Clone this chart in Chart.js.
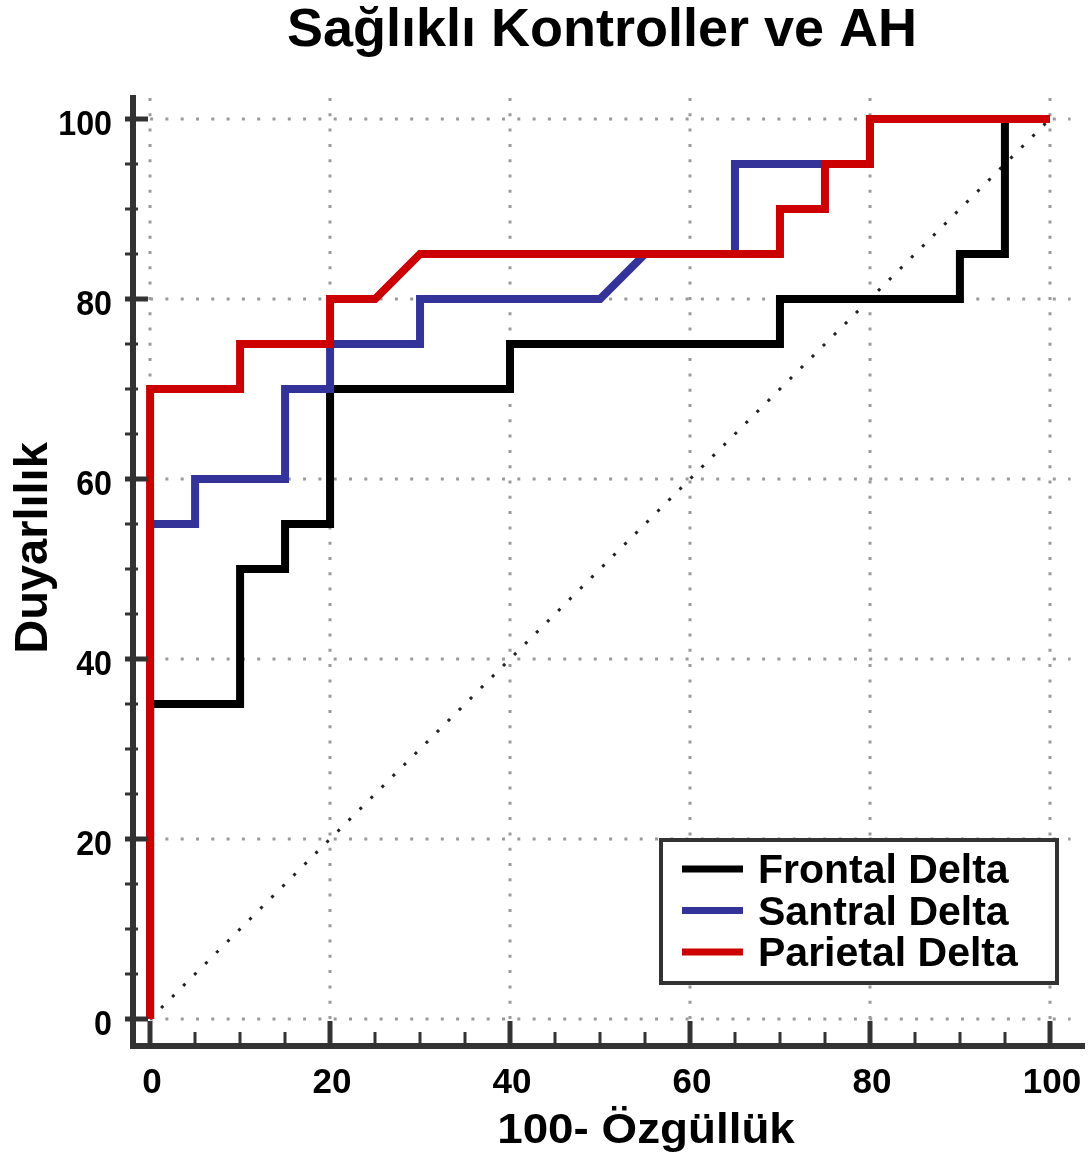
<!DOCTYPE html>
<html>
<head>
<meta charset="utf-8">
<title>Sağlıklı Kontroller ve AH</title>
<script src="https://cdn.jsdelivr.net/npm/chart.js@4.4.1/dist/chart.umd.min.js"></script>
<style>
  html, body { margin: 0; padding: 0; background: #fff; }
  canvas { display: block; }
</style>
</head>
<body>
<canvas id="rocChart" width="1092" height="1158"></canvas>
<script>
// ROC eğrileri: x = 100 - özgüllük, y = duyarlılık (%)
const seriesNames = ["Frontal Delta", "Santral Delta", "Parietal Delta"];
const seriesColors = ["#000000", "#333399", "#cc0000"];

const frontalX = [0, 0, 10, 10, 15, 15, 20, 20, 40, 40, 70, 70, 90, 90, 95, 95, 100];
const frontalY = [0, 35, 35, 50, 50, 55, 55, 70, 70, 75, 75, 80, 80, 85, 85, 100, 100];

const santralX = [0, 0, 5, 5, 15, 15, 20, 20, 30, 30, 50, 55, 65, 65, 75, 80, 80, 100];
const santralY = [0, 55, 55, 60, 60, 70, 70, 75, 75, 80, 80, 85, 85, 95, 95, 95, 100, 100];

const parietalX = [0, 0, 10, 10, 20, 20, 25, 30, 70, 70, 75, 75, 80, 80, 100];
const parietalY = [0, 70, 70, 75, 75, 80, 80, 85, 85, 90, 90, 95, 95, 100, 100];

// referans köşegeni
const diagX = [0, 100];
const diagY = [0, 100];

const xTickValues = [0, 5, 10, 15, 20, 25, 30, 35, 40, 45, 50, 55, 60, 65, 70, 75, 80, 85, 90, 95, 100];
const yTickValues = [0, 5, 10, 15, 20, 25, 30, 35, 40, 45, 50, 55, 60, 65, 70, 75, 80, 85, 90, 95, 100];
const majorStep = 20;

const titleText = "Sağlıklı Kontroller ve AH";
const xTitle = "100- Özgüllük";
const yTitle = "Duyarlılık";

const toPoints = (xs, ys) => xs.map((x, i) => ({ x: x, y: ys[i] }));

const FONT = '"Liberation Sans", Arial, sans-serif';
const AXIS_COLOR = "#333333";

function curve(label, xs, ys, color, order) {
  return {
    label: label,
    data: toPoints(xs, ys),
    borderColor: color,
    backgroundColor: color,
    borderWidth: 8,
    borderJoinStyle: "miter",
    borderCapStyle: "butt",
    pointRadius: 0,
    tension: 0,
    fill: false,
    order: order,
  };
}

// yazıyı yatayda sıkıştırıp/genişleterek yazar
function stretchedText(ctx, text, x, y, sx) {
  ctx.save();
  ctx.translate(x, y);
  ctx.scale(sx, 1);
  ctx.fillText(text, 0, 0);
  ctx.restore();
}

const frame = {
  id: "rocFrame",
  beforeDatasetsDraw(chart) {
    const ctx = chart.ctx;
    const xs = chart.scales.x, ys = chart.scales.y;
    ctx.save();
    ctx.strokeStyle = "#9a9a9a";
    ctx.lineWidth = 3;
    ctx.setLineDash([3, 12.3]);
    // noktalı ızgara, yalnızca ana bölmelerde
    xs.ticks.forEach(t => {
      if (t.value % majorStep) return;
      const px = Math.round(xs.getPixelForValue(t.value));
      ctx.beginPath();
      ctx.moveTo(px, ys.getPixelForValue(0));
      ctx.lineTo(px, ys.getPixelForValue(102.5));
      ctx.stroke();
    });
    ys.ticks.forEach(t => {
      if (t.value % majorStep) return;
      const py = Math.round(ys.getPixelForValue(t.value));
      ctx.beginPath();
      ctx.moveTo(xs.getPixelForValue(0), py);
      ctx.lineTo(xs.getPixelForValue(102.3), py);
      ctx.stroke();
    });
    ctx.restore();
  },
  afterDatasetsDraw(chart) {
    const ctx = chart.ctx;
    const area = chart.chartArea;
    const xs = chart.scales.x, ys = chart.scales.y;
    ctx.save();
    ctx.setLineDash([]);
    ctx.strokeStyle = AXIS_COLOR;
    ctx.lineCap = "butt";

    // eksen çizgileri
    ctx.lineWidth = 6;
    ctx.beginPath();
    ctx.moveTo(area.left, area.top);
    ctx.lineTo(area.left, area.bottom + 3);
    ctx.moveTo(area.left - 3, area.bottom);
    ctx.lineTo(area.right, area.bottom);
    ctx.stroke();

    // y ekseni çentikleri (dışa doğru)
    ys.ticks.forEach(t => {
      const major = t.value % majorStep === 0;
      const py = Math.round(ys.getPixelForValue(t.value));
      ctx.lineWidth = major ? 5 : 3;
      ctx.beginPath();
      ctx.moveTo(area.left - 8, py);
      ctx.lineTo(area.left + (major ? 15 : 5), py);
      ctx.stroke();
    });
    // x ekseni çentikleri (içe doğru)
    xs.ticks.forEach(t => {
      const major = t.value % majorStep === 0;
      const px = Math.round(xs.getPixelForValue(t.value));
      ctx.lineWidth = major ? 5 : 3;
      ctx.beginPath();
      ctx.moveTo(px, area.bottom);
      ctx.lineTo(px, area.bottom - (major ? 25 : 14));
      ctx.stroke();
    });

    // etiketler
    ctx.fillStyle = "#000";
    ctx.font = "bold 35px " + FONT;
    ctx.textAlign = "right";
    ctx.textBaseline = "alphabetic";
    ys.ticks.forEach(t => {
      if (t.value % majorStep) return;
      stretchedText(ctx, String(t.value), area.left - 21, ys.getPixelForValue(t.value) + 16, 0.92);
    });
    ctx.textAlign = "center";
    xs.ticks.forEach(t => {
      if (t.value % majorStep) return;
      ctx.fillText(String(t.value), xs.getPixelForValue(t.value) + 2, area.bottom + 47);
    });

    // başlıklar
    ctx.font = "bold 54px " + FONT;
    ctx.fillText(titleText, 602, 46);
    ctx.font = "bold 42px " + FONT;
    stretchedText(ctx, xTitle, 646, 1143, 1.09);
    ctx.save();
    ctx.translate(47, 548);
    ctx.rotate(-Math.PI / 2);
    ctx.font = "bold 47px " + FONT;
    ctx.fillText(yTitle, 0, 0);
    ctx.restore();

    // açıklama kutusu
    const box = { left: 661, top: 840, width: 396, height: 143 };
    ctx.fillStyle = "#fff";
    ctx.fillRect(box.left, box.top, box.width, box.height);
    ctx.strokeStyle = AXIS_COLOR;
    ctx.lineWidth = 4;
    ctx.strokeRect(box.left, box.top, box.width, box.height);
    ctx.font = "bold 41px " + FONT;
    ctx.textAlign = "left";
    seriesNames.forEach((name, i) => {
      const cy = 869 + i * 41.5;
      ctx.strokeStyle = seriesColors[i];
      ctx.lineWidth = 7;
      ctx.beginPath();
      ctx.moveTo(682, cy);
      ctx.lineTo(743, cy);
      ctx.stroke();
      ctx.fillStyle = "#000";
      ctx.fillText(name, 758, cy + 14);
    });
    ctx.restore();
  },
};

const config = {
  type: "line",
  data: {
    datasets: [
      curve(seriesNames[0], frontalX, frontalY, seriesColors[0], 3),
      curve(seriesNames[1], santralX, santralY, seriesColors[1], 2),
      curve(seriesNames[2], parietalX, parietalY, seriesColors[2], 1),
      {
        label: "Referans",
        data: toPoints(diagX, diagY),
        borderColor: "#222222",
        borderWidth: 3,
        borderDash: [3, 12.6],
        pointRadius: 0,
        fill: false,
        order: 4,
      },
    ],
  },
  options: {
    responsive: false,
    animation: false,
    devicePixelRatio: 1,
    layout: { padding: { left: 133, right: 7, top: 95, bottom: 112 } },
    plugins: {
      legend: { display: false },
      tooltip: { enabled: false },
    },
    scales: {
      x: {
        type: "linear",
        display: false,
        min: -1.9,
        max: 103.9,
        afterBuildTicks: axis => { axis.ticks = xTickValues.map(v => ({ value: v })); },
      },
      y: {
        type: "linear",
        display: false,
        min: -3,
        max: 102.67,
        afterBuildTicks: axis => { axis.ticks = yTickValues.map(v => ({ value: v })); },
      },
    },
  },
  plugins: [frame],
};

const rocChart = new Chart(document.getElementById("rocChart"), config);
</script>
</body>
</html>
